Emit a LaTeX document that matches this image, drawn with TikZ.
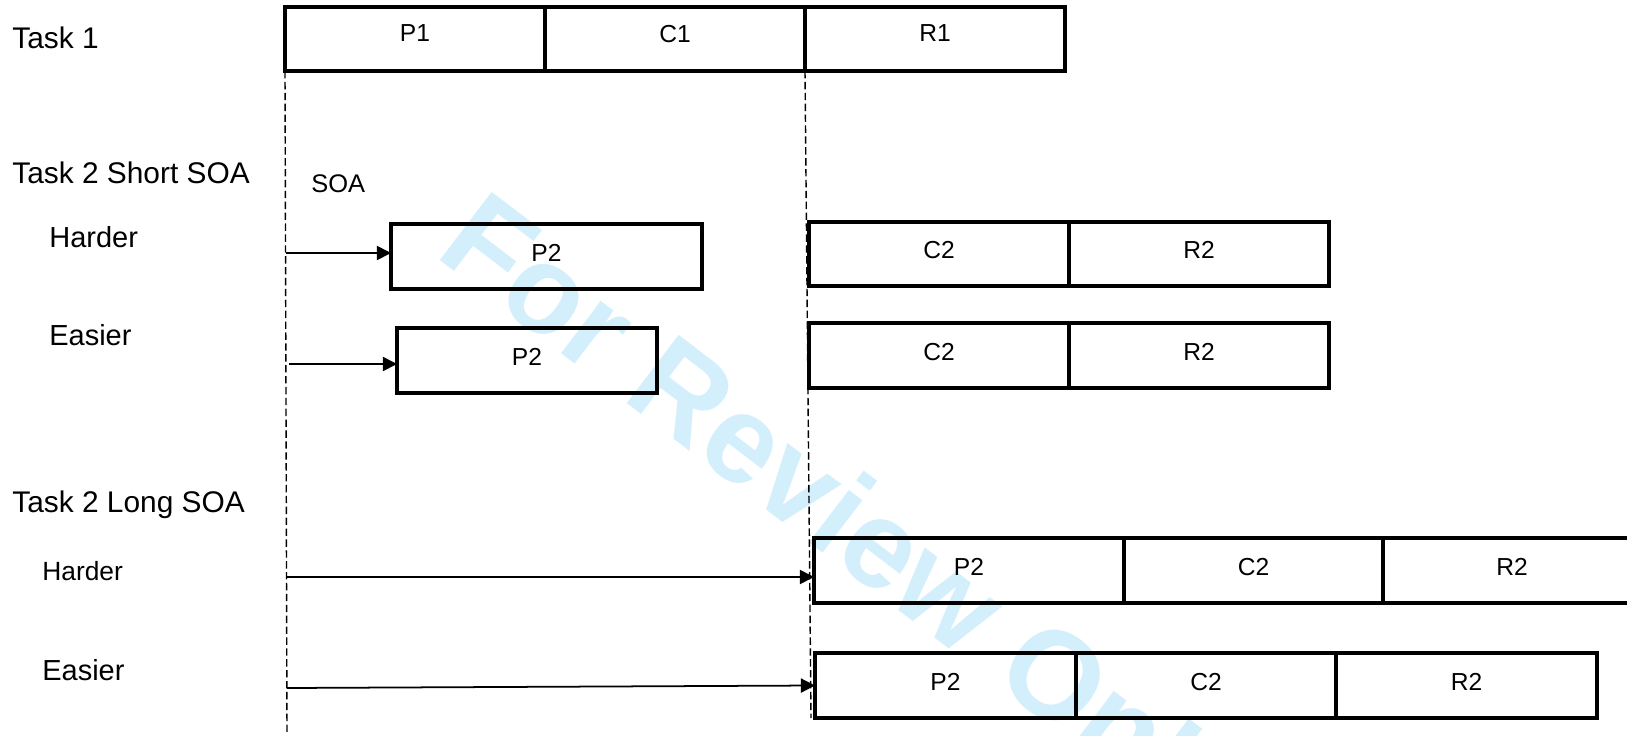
\documentclass[tikz,border=0pt]{standalone}
\usepackage{fontspec}
\setmainfont{Liberation Sans}
\usetikzlibrary{arrows.meta}
\definecolor{wmblue}{RGB}{212,239,252}
\begin{document}
\begin{tikzpicture}[x=0.02cm,y=-0.02cm,
  tbox/.style={draw, line width=1.9pt, anchor=north west, outer sep=0pt, inner sep=0pt,
    font=\fontsize{14}{16}\selectfont, text depth=0.16cm},
  lbl/.style={anchor=base west, inner sep=0pt, font=\fontsize{16.5}{19}\selectfont},
  lblt/.style={anchor=base west, inner sep=0pt, font=\fontsize{17}{19}\selectfont},
  lbls/.style={anchor=base west, inner sep=0pt, font=\fontsize{15}{17}\selectfont},
  arr/.style={line width=1pt, -{Triangle[length=8pt,width=8pt]}},
  guide/.style={line width=0.8pt, dash pattern=on 4.2pt off 2pt},
  wmark/.style={anchor=base, inner sep=0pt, text=wmblue, rotate=-37.3,
    font=\fontsize{71}{78}\selectfont\bfseries}]
\useasboundingbox (0,0) rectangle (1627,735);
\clip (0,0) rectangle (1627,735);
% watermark
\node[wmark] (wm) at (822,552) {For Review Only};
% row labels
\node[lblt] (t1) at (12,48.4) {Task 1};
\node[lblt] (t2s) at (12,183.4) {Task 2 Short SOA};
\node[lbls, font=\fontsize{14.5}{17}\selectfont] (soa) at (311,192) {SOA};
\node[lbl] (sh) at (49,247.4) {Harder};
\node[lbl] (se) at (49,345.4) {Easier};
\node[lblt] (t2l) at (12,512) {Task 2 Long SOA};
\node[lbls] (lh) at (42,580) {Harder};
\node[lbl] (le) at (42,680) {Easier};
% Task 1
\node[tbox, text depth=0.22cm, minimum width=5.2cm, minimum height=1.28cm] (p1) at (285,7) {P1};
\node[tbox, text depth=0.22cm, minimum width=5.2cm, minimum height=1.28cm] (c1) at (545,7) {C1};
\node[tbox, text depth=0.22cm, minimum width=5.2cm, minimum height=1.28cm] (r1) at (805,7) {R1};
% Short SOA harder
\node[tbox, minimum width=6.22cm, minimum height=1.3cm] (shp2) at (391,224) {P2};
\node[tbox, minimum width=5.2cm, minimum height=1.28cm] (shc2) at (809,222) {C2};
\node[tbox, minimum width=5.2cm, minimum height=1.28cm] (shr2) at (1069,222) {R2};
% Short SOA easier
\node[tbox, minimum width=5.2cm, minimum height=1.3cm] (sep2) at (397,328) {P2};
\node[tbox, minimum width=5.2cm, minimum height=1.3cm] (sec2) at (809,323) {C2};
\node[tbox, minimum width=5.2cm, minimum height=1.3cm] (ser2) at (1069,323) {R2};
% Long SOA harder
\node[tbox, minimum width=6.2cm, minimum height=1.3cm] (lhp2) at (814,538) {P2};
\node[tbox, minimum width=5.18cm, minimum height=1.3cm] (lhc2) at (1124,538) {C2};
\node[tbox, minimum width=5.16cm, minimum height=1.3cm] (lhr2) at (1383,538) {R2};
% Long SOA easier
\node[tbox, minimum width=5.22cm, minimum height=1.3cm] (lep2) at (815,653) {P2};
\node[tbox, minimum width=5.2cm, minimum height=1.3cm] (lec2) at (1076,653) {C2};
\node[tbox, minimum width=5.22cm, minimum height=1.3cm] (ler2) at (1336,653) {R2};
% dashed guides
\coordinate (d1b) at (287,735);
\coordinate (d2b) at (811,718);
\draw[guide] (p1.south west) -- (d1b);
\draw[guide] (r1.south west) -- (d2b);
% SOA arrows
\coordinate (a1) at (286,253);
\coordinate (a2) at (289,364);
\coordinate (a3) at (287,577);
\coordinate (a4) at (287,688);
\draw[arr] (a1) -- (a1 -| shp2.west);
\draw[arr] (a2) -- (a2 -| sep2.west);
\draw[arr] (a3) -- (a3 -| lhp2.west);
\draw[arr] (a4) -- (lep2.west);
\end{tikzpicture}
\end{document}
